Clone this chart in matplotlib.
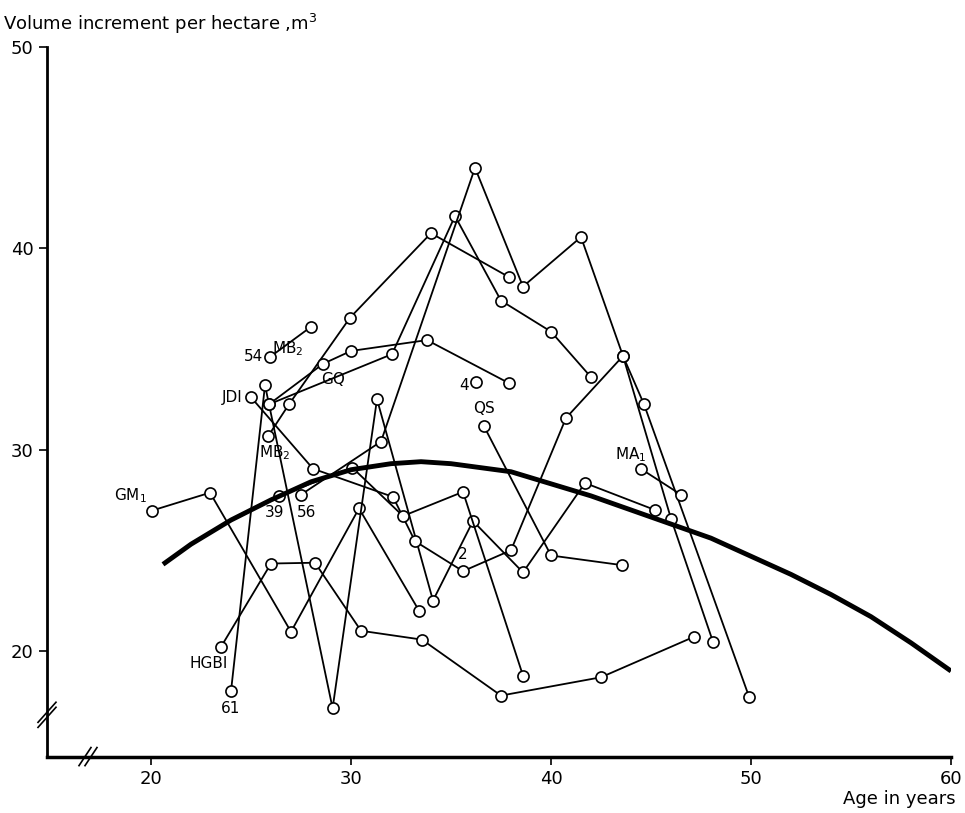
import numpy as np
import matplotlib.pyplot as plt

# === Stand series (age in years, volume increment m3/ha) ===
gm1_x = [20.05, 22.95, 27.0, 30.4, 33.4]
gm1_y = [26.97, 27.86, 20.95, 27.08, 22.0]

s54_x = [25.95, 28.0]
s54_y = [34.6, 36.1]

mb2a_x = [25.85, 26.9, 29.95, 34.0, 37.9]
mb2a_y = [30.66, 32.25, 36.55, 40.75, 38.57]

s61_x = [24.0, 25.7, 29.08, 31.3, 34.1, 36.1, 38.6, 41.7, 45.2]
s61_y = [18.0, 33.2, 17.15, 32.5, 22.5, 26.45, 23.9, 28.34, 27.0]

jdi_x = [25.0, 28.1, 32.1, 33.2, 35.6, 38.0, 40.75, 43.6, 44.65, 49.9]
jdi_y = [32.6, 29.05, 27.65, 25.45, 23.96, 25.0, 31.57, 34.65, 32.25, 17.73]

gq_x = [25.9, 28.6, 30.0, 33.8, 37.9]
gq_y = [32.25, 34.26, 34.9, 35.44, 33.3]

gq2_x = [25.9, 32.05, 35.2, 37.5, 40.0, 42.0]
gq2_y = [32.25, 34.74, 41.6, 37.4, 35.86, 33.6]

hgbi_x = [23.5, 26.0, 28.2, 30.5, 33.55, 37.5, 42.5, 47.15]
hgbi_y = [20.2, 24.34, 24.38, 21.0, 20.56, 17.78, 18.69, 20.7]

s39_x = [26.4, 30.07, 32.6, 35.6, 38.6]
s39_y = [27.7, 29.1, 26.7, 27.9, 18.77]

s56_x = [27.5, 31.5, 36.2, 38.6, 41.5, 43.6, 46.0, 48.1]
s56_y = [27.76, 30.4, 44.0, 38.1, 40.56, 34.65, 26.57, 20.45]

qs_x = [36.65, 40.0, 43.55]
qs_y = [31.16, 24.74, 24.26]

ma1_x = [44.5, 46.5]
ma1_y = [29.04, 27.76]

s4_x = [36.25]
s4_y = [33.35]

# mean curve
curve_x = [20.6, 22, 24, 26, 28, 30, 32, 33.5, 35, 38, 40, 42, 44, 46, 48, 50, 52, 54, 56, 58, 60]
curve_y = [24.3, 25.3, 26.5, 27.5, 28.4, 29.0, 29.3, 29.4, 29.3, 28.9, 28.3, 27.7, 27.0, 26.3, 25.6, 24.7, 23.8, 22.8, 21.7, 20.4, 19.0]

series = [(gm1_x, gm1_y), (s54_x, s54_y), (mb2a_x, mb2a_y), (s61_x, s61_y),
          (jdi_x, jdi_y), (gq_x, gq_y), (gq2_x, gq2_y), (hgbi_x, hgbi_y),
          (s39_x, s39_y), (s56_x, s56_y), (qs_x, qs_y), (ma1_x, ma1_y), (s4_x, s4_y)]

fig = plt.figure(figsize=(9.65, 8.13), dpi=100)
ax = fig.add_axes([0.0487, 0.0689, 0.9368, 0.8733])

for xs, ys in series:
    ax.plot(xs, ys, color='black', lw=1.3, marker='o', ms=8,
            mfc='white', mec='black', mew=1.2, zorder=3)

ax.plot(curve_x, curve_y, color='black', lw=3.5, zorder=4,
        solid_capstyle='butt')

# labels
lab = dict(fontsize=11, color='black')
ax.text(19.8, 27.25, 'GM$_1$', ha='right', va='bottom', **lab)
ax.text(25.6, 34.6, '54', ha='right', va='center', **lab)
ax.text(26.05, 34.55, 'MB$_2$', ha='left', va='bottom', **lab)
ax.text(24.6, 32.6, 'JDI', ha='right', va='center', **lab)
ax.text(28.5, 33.85, 'GQ', ha='left', va='top', **lab)
ax.text(25.4, 30.3, 'MB$_2$', ha='left', va='top', **lab)
ax.text(26.2, 27.25, '39', ha='center', va='top', **lab)
ax.text(27.8, 27.25, '56', ha='center', va='top', **lab)
ax.text(22.9, 19.75, 'HGBI', ha='center', va='top', **lab)
ax.text(24.0, 17.5, '61', ha='center', va='top', **lab)
ax.text(35.9, 33.2, '4', ha='right', va='center', **lab)
ax.text(36.65, 31.65, 'QS', ha='center', va='bottom', **lab)
ax.text(35.6, 24.4, '2', ha='center', va='bottom', **lab)
ax.text(44.75, 29.3, 'MA$_1$', ha='right', va='bottom', **lab)

ax.set_xlim(14.8, 60)
ax.set_ylim(14.73, 50)
ax.set_xticks([20, 30, 40, 50, 60])
ax.set_yticks([20, 30, 40, 50])
ax.tick_params(direction='out', length=6, width=1.2, labelsize=13)
for s in ['top', 'right']:
    ax.spines[s].set_visible(False)
ax.spines['left'].set_linewidth(2)
ax.spines['bottom'].set_linewidth(2.5)
ax.spines['left'].set_bounds(14.73, 50)
ax.spines['bottom'].set_bounds(14.8, 60)

# axis break marks
kw = dict(color='black', lw=1.2, clip_on=False, zorder=5)
ax.plot([14.35, 15.25], [16.2, 17.2], **kw)
ax.plot([14.35, 15.25], [16.45, 17.45], **kw)
ax.plot([16.4, 17.0], [14.3, 15.2], **kw)
ax.plot([16.7, 17.3], [14.3, 15.2], **kw)

fig.text(0.003, 0.985, 'Volume increment per hectare ,m$^3$', ha='left', va='top', fontsize=13)
fig.text(0.99, 0.006, 'Age in years', ha='right', va='bottom', fontsize=13)

fig.savefig('out.png', dpi=100)
